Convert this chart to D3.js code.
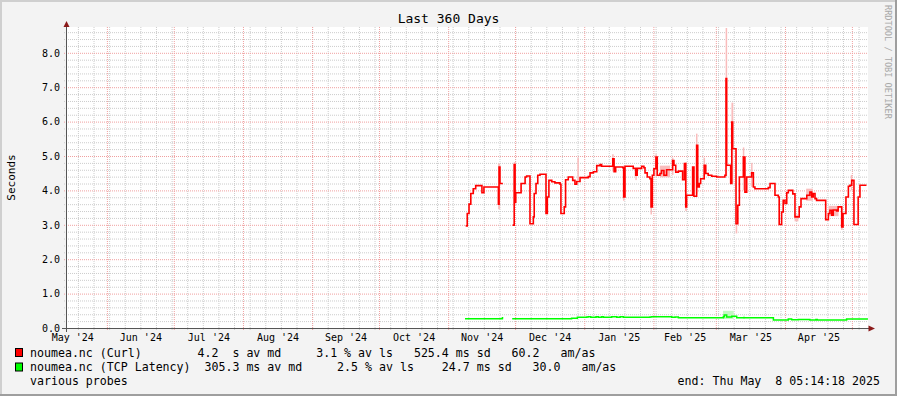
<!DOCTYPE html>
<html>
<head>
  <meta charset="utf-8">
  <title>Last 360 Days</title>
  <script src="https://d3js.org/d3.v7.min.js"></script>
  <style>
    body { margin: 0; background: #fff; }
    svg text { font-family: "DejaVu Sans Mono", monospace; fill: #000; }
    .minor line { stroke: #cccccc; stroke-dasharray: 1,1; }
    .major line { stroke: #f0a0a0; stroke-dasharray: 1,1; }
    .grid .domain { stroke: none; }
  </style>
</head>
<body>
<svg id="chart" width="897" height="396"></svg>
<script>
  // readings are [days since 2024-11-01 UTC, value]; null = no data
  const curlMedian = [
    [7.85, 2.97], [8.55, 3.33], [9.35, 3.60], [10.15, 3.91], [11.25, 4.05], [12.34, 4.14],
    [15.14, 3.93], [16.03, 4.10], [22.52, 3.60], [22.82, 4.68], [23.22, 4.20], [24.51, 4.20],
    [24.6, null],
    [28.90, 2.99], [29.60, 4.75], [30.00, 3.66], [30.30, 3.93], [32.69, 4.20], [34.49, 4.39],
    [35.19, 4.42], [36.68, 3.03], [38.18, 3.23], [38.58, 3.91], [39.38, 4.20], [40.17, 4.44],
    [41.17, 4.47], [43.86, 3.33], [44.46, 3.81], [45.16, 4.29], [46.46, 4.25], [47.85, 4.22],
    [50.15, 4.18], [50.55, 3.33], [52.04, 3.52], [52.64, 4.31], [53.84, 4.39], [55.83, 4.29],
    [56.83, 4.18], [57.63, 4.26], [59.12, 4.37], [62.82, 4.40], [63.61, 4.51], [65.11, 4.54],
    [66.61, 4.72], [68.10, 4.75], [68.80, 4.70], [73.29, 4.70], [73.79, 4.92], [74.39, 4.54],
    [75.09, 4.68], [78.28, 4.66], [78.68, 3.81], [79.28, 4.70], [82.97, 4.64], [84.06, 4.44],
    [84.76, 4.64], [86.76, 4.70], [87.75, 4.66], [88.25, 4.51], [89.25, 4.39], [90.45, 4.34],
    [90.95, 3.52], [91.54, 4.44], [92.24, 4.63], [93.14, 4.97], [93.74, 4.44], [94.94, 4.49],
    [95.63, 4.58], [96.73, 4.44], [97.93, 4.60], [100.62, 4.87], [101.22, 4.73], [102.02, 4.53],
    [103.21, 4.56], [105.11, 4.31], [105.91, 4.78], [106.51, 3.52], [106.91, 3.86], [109.60, 4.68],
    [110.20, 3.83], [111.39, 5.31], [111.89, 4.10], [112.59, 4.20], [113.19, 4.34], [114.79, 4.73],
    [115.48, 4.49], [116.58, 4.44], [118.18, 4.41], [120.37, 4.39], [124.06, 4.44], [124.56, 7.25],
    [124.86, 4.73], [126.66, 4.20], [127.15, 5.99], [127.55, 5.21], [129.05, 3.03], [129.85, 3.57],
    [130.55, 4.39], [132.34, 4.97], [133.04, 3.95], [133.84, 4.39], [136.03, 4.51], [136.83, 4.10],
    [137.53, 4.05], [143.51, 4.08], [144.31, 4.20], [146.51, 3.86], [148.00, 3.81], [148.40, 3.01],
    [149.50, 3.37], [150.20, 3.71], [150.99, 3.62], [151.79, 3.93], [152.49, 4.00], [154.49, 3.90],
    [155.48, 3.23], [157.38, 3.52], [158.18, 3.76], [160.77, 3.86], [162.17, 3.95], [162.97, 3.81],
    [163.67, 3.91], [164.46, 3.76], [165.16, 3.71], [169.25, 3.15], [170.45, 3.33], [171.15, 3.42],
    [171.95, 3.28], [172.64, 3.43], [174.14, 3.40], [174.84, 3.52], [176.43, 2.94], [177.03, 3.33],
    [178.33, 3.81], [179.42, 4.12], [180.12, 4.15], [180.92, 4.29], [181.92, 3.01], [183.81, 3.81],
    [184.61, 4.15], [187.2, 4.13]
  ];

  const tcpMedian = [
    [7.55, 0.27], [24.31, 0.30], [24.71, 0.30], [24.8, null],
    [28.70, 0.27], [55.33, 0.28], [57.93, 0.31], [62.12, 0.32], [62.82, 0.33], [63.91, 0.31],
    [66.31, 0.33], [67.31, 0.31], [68.80, 0.33], [69.60, 0.31], [73.29, 0.33], [75.59, 0.31],
    [77.08, 0.33], [78.58, 0.31], [90.45, 0.32], [91.24, 0.33], [100.22, 0.31], [101.72, 0.32],
    [103.21, 0.30], [123.37, 0.33], [123.76, 0.38], [124.86, 0.32], [127.15, 0.34], [129.35, 0.30],
    [145.81, 0.23], [152.49, 0.26], [153.99, 0.24], [156.98, 0.25], [162.17, 0.23], [164.86, 0.25],
    [165.46, 0.23], [178.63, 0.26], [188.2, 0.26]
  ];

  // smoke: [from day, to day, low, high]
  const curlSmoke = [
    [22.4, 23.3, 3.45, 4.78], [29.4, 30.4, 3.55, 4.82], [57.9, 58.6, 4.30, 4.95],
    [73.5, 74.2, 4.55, 5.05], [78.4, 79.0, 3.70, 4.72], [83.9, 84.4, 4.30, 4.62],
    [90.7, 91.3, 3.30, 4.40], [92.9, 93.5, 4.40, 5.05], [94.9, 99.5, 4.38, 4.72],
    [100.3, 101.0, 4.45, 4.95], [106.3, 106.9, 3.40, 4.82], [111.1, 111.7, 3.90, 5.65],
    [114.5, 115.1, 4.30, 4.95], [124.4, 124.8, 4.40, 8.72], [127.0, 127.8, 4.20, 6.55],
    [128.9, 129.6, 2.75, 3.60], [132.1, 132.7, 4.00, 5.25], [135.8, 136.4, 4.10, 4.80],
    [155.3, 157.0, 3.10, 3.30], [160.5, 163.5, 3.70, 4.05], [170.5, 175.0, 3.25, 3.55],
    [176.2, 176.8, 2.85, 3.50], [180.5, 181.0, 4.00, 4.45]
  ];
  const tcpSmoke = [[123.2, 128.0, 0.26, 0.50], [132.3, 132.9, 0.26, 0.36]];

  const yTicks = [0, 1, 2, 3, 4, 5, 6, 7, 8];
  const monthLabels = ["2024-05", "2024-06", "2024-07", "2024-08", "2024-09", "2024-10",
                       "2024-11", "2024-12", "2025-01", "2025-02", "2025-03", "2025-04"];

  const legendRows = [
    { color: "#ff0000", text: "noumea.nc (Curl)        4.2  s av md     3.1 % av ls   525.4 ms sd   60.2   am/as" },
    { color: "#00ff00", text: "noumea.nc (TCP Latency)  305.3 ms av md     2.5 % av ls    24.7 ms sd   30.0   am/as" }
  ];

  const svg = d3.select("#chart");
  const W = 897, H = 396;
  const plotLeft = 65, plotRight = 868, plotTop = 27, plotBottom = 328;

  const t0 = new Date(Date.UTC(2024, 4, 13, 5, 14, 18));
  const t1 = new Date(Date.UTC(2025, 4, 8, 5, 14, 18));
  const epoch = Date.UTC(2024, 10, 1);
  const toDate = d => new Date(epoch + d * 864e5);

  const x = d3.scaleUtc().domain([t0, t1]).range([plotLeft, plotRight]);
  const y = d3.scaleLinear().domain([0, 8.75]).range([plotBottom, plotTop]);

  // frame
  svg.append("rect").attr("width", W).attr("height", H).attr("fill", "#f3f3f3");
  svg.append("path").attr("d", "M0,1H897M1,0V396").attr("stroke", "#cfcfcf").attr("stroke-width", 2);
  svg.append("path").attr("d", "M0,395H897M896,0V396").attr("stroke", "#9e9e9e").attr("stroke-width", 2);
  svg.append("rect").attr("x", plotLeft + 1).attr("y", plotTop)
    .attr("width", plotRight - plotLeft - 1).attr("height", plotBottom - plotTop)
    .attr("fill", "#fff");

  // grid
  const minorY = d3.range(1, 44).map(i => i / 5).filter(v => Math.abs(v - Math.round(v)) > 0.01);
  const gridH = plotBottom + 2 - plotTop;
  const grid = svg.append("g");
  grid.append("g").attr("class", "grid minor")
    .attr("transform", "translate(" + (plotLeft - 1) + ",0)")
    .call(d3.axisLeft(y).tickValues(minorY).tickSize(-(plotRight - plotLeft + 1)).tickFormat(""));
  grid.append("g").attr("class", "grid minor")
    .attr("transform", "translate(0," + (plotBottom + 2) + ")")
    .call(d3.axisBottom(x).tickValues(d3.utcSunday.range(t0, t1)).tickFormat(""))
    .selectAll("line").attr("y2", -gridH);
  grid.append("g").attr("class", "grid major")
    .attr("transform", "translate(" + (plotLeft - 1) + ",0)")
    .call(d3.axisLeft(y).tickValues(yTicks.slice(1)).tickSize(-(plotRight - plotLeft + 1)).tickFormat(""));
  grid.append("g").attr("class", "grid major")
    .attr("transform", "translate(0," + (plotBottom + 2) + ")")
    .call(d3.axisBottom(x).tickValues(d3.utcMonth.range(t0, t1)).tickFormat(""))
    .selectAll("line").attr("y2", -gridH);
  grid.selectAll(".tick text").remove();

  // smoke
  const plot = svg.append("g");
  plot.selectAll("rect.smoke").data(curlSmoke).join("rect").attr("class", "smoke")
    .attr("x", d => x(toDate(d[0])))
    .attr("width", d => Math.max(1.5, x(toDate(d[1])) - x(toDate(d[0]))))
    .attr("y", d => y(d[3]))
    .attr("height", d => y(d[2]) - y(d[3]))
    .attr("fill", "#f9bcbc");
  plot.selectAll("rect.tsmoke").data(tcpSmoke).join("rect").attr("class", "tsmoke")
    .attr("x", d => x(toDate(d[0])))
    .attr("width", d => Math.max(1.5, x(toDate(d[1])) - x(toDate(d[0]))))
    .attr("y", d => y(d[3]))
    .attr("height", d => y(d[2]) - y(d[3]))
    .attr("fill", "#c4f7c4");

  const line = d3.line()
    .defined(d => d[1] !== null)
    .x(d => x(toDate(d[0])))
    .y(d => y(d[1]))
    .curve(d3.curveStepAfter);

  plot.append("path").datum(tcpMedian).attr("d", line)
    .attr("fill", "none").attr("stroke", "#00ff00").attr("stroke-width", 1.5);
  plot.append("path").datum(curlMedian).attr("d", line)
    .attr("fill", "none").attr("stroke", "#ff0000").attr("stroke-width", 1.6);

  // axes
  svg.append("path").attr("d", "M62," + (plotBottom + 0.5) + "H869M" + (plotLeft + 1.5) + "," + (plotBottom + 4) + "V26")
    .attr("stroke", "#555").attr("stroke-width", 1);
  svg.append("path").attr("d", "M66.5,21L63.5,27L69.5,27Z").attr("fill", "#8b1a1a");
  svg.append("path").attr("d", "M875," + (plotBottom + 0.5) + "L868.5," + (plotBottom - 2.5) + "L868.5," + (plotBottom + 3.5) + "Z")
    .attr("fill", "#8b1a1a");

  const yAxis = svg.append("g").attr("transform", "translate(" + (plotLeft + 1) + ",0)")
    .call(d3.axisLeft(y).tickValues(yTicks).tickSize(0).tickPadding(6).tickFormat(d3.format(".1f")));
  yAxis.select(".domain").remove();
  yAxis.selectAll("text").style("font-size", "10px").style("font-family", "DejaVu Sans Mono");

  const midMonth = monthLabels.map(m => {
    const s = d3.utcParse("%Y-%m")(m);
    const e = d3.utcMonth.offset(s, 1);
    return new Date((s.getTime() + e.getTime()) / 2);
  });
  const xAxis = svg.append("g").attr("transform", "translate(0," + plotBottom + ")")
    .call(d3.axisBottom(x).tickValues(midMonth).tickSize(0).tickPadding(6).tickFormat(d3.utcFormat("%b '%y")));
  xAxis.select(".domain").remove();
  xAxis.selectAll("text").style("font-size", "10px").style("font-family", "DejaVu Sans Mono");

  // titles
  svg.append("text").attr("x", 448.5).attr("y", 23).attr("text-anchor", "middle")
    .style("font-size", "13px").text("Last 360 Days");
  svg.append("text").attr("transform", "translate(14.5,177.5) rotate(-90)").attr("text-anchor", "middle")
    .style("font-size", "11px").text("Seconds");
  svg.append("text").attr("transform", "translate(884.5,5) rotate(90)")
    .style("font-size", "8.6px").style("fill", "#a8a8a8").text("RRDTOOL / TOBI OETIKER");

  // legend
  legendRows.forEach((r, i) => {
    svg.append("rect").attr("x", 15.5).attr("y", 348.5 + i * 14.5).attr("width", 7).attr("height", 8)
      .attr("fill", r.color).attr("stroke", "#000").attr("stroke-width", 1);
    svg.append("text").attr("x", 30).attr("y", 356.5 + i * 14.5)
      .attr("xml:space", "preserve").style("white-space", "pre")
      .style("font-size", "11.6px").text(r.text);
  });
  svg.append("text").attr("x", 30).attr("y", 385).style("font-size", "11.6px").text("various probes");
  svg.append("text").attr("x", 880).attr("y", 385).attr("text-anchor", "end")
    .attr("xml:space", "preserve").style("white-space", "pre")
    .style("font-size", "11.6px").text("end: Thu May  8 05:14:18 2025");
</script>
</body>
</html>
